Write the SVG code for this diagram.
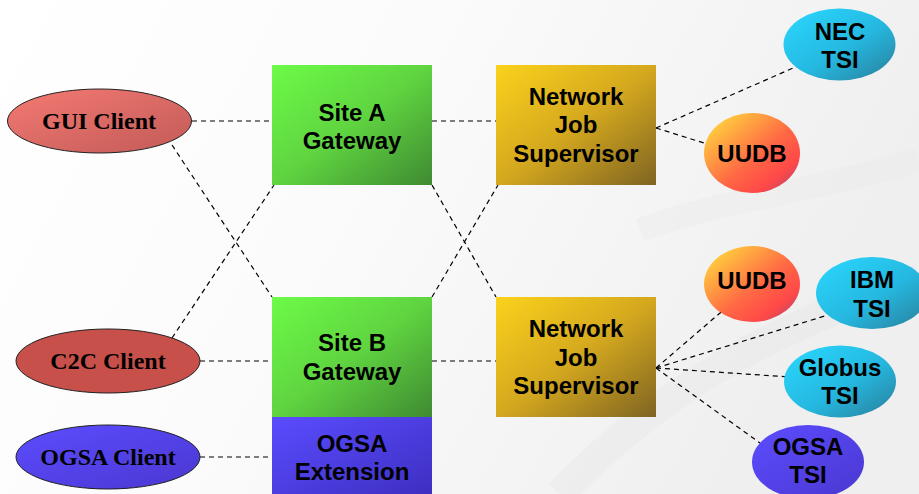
<svg xmlns="http://www.w3.org/2000/svg" width="919" height="494" viewBox="0 0 919 494">
<defs>
<linearGradient id="bg" x1="0" y1="0" x2="1" y2="0.3">
<stop offset="0" stop-color="#ffffff"/><stop offset="0.45" stop-color="#fbfbfb"/><stop offset="1" stop-color="#efefef"/>
</linearGradient>
<linearGradient id="gGreen" x1="0" y1="0" x2="1" y2="1">
<stop offset="0" stop-color="#6dfb48"/><stop offset="0.5" stop-color="#5fd440"/><stop offset="1" stop-color="#3f8a32"/>
</linearGradient>
<linearGradient id="gGold" x1="0" y1="0" x2="1" y2="1">
<stop offset="0" stop-color="#fbd21c"/><stop offset="0.5" stop-color="#d4a81e"/><stop offset="1" stop-color="#7f6422"/>
</linearGradient>
<linearGradient id="gBlue" x1="0" y1="0" x2="1" y2="1">
<stop offset="0" stop-color="#5a4cff"/><stop offset="1" stop-color="#3d2fc0"/>
</linearGradient>
<linearGradient id="gCyan" x1="0" y1="0" x2="1" y2="1">
<stop offset="0" stop-color="#2ad8ff"/><stop offset="0.55" stop-color="#25b8e0"/><stop offset="1" stop-color="#2a7d99"/>
</linearGradient>
<linearGradient id="gUudb" x1="0.1" y1="0.1" x2="0.9" y2="0.9">
<stop offset="0" stop-color="#ffd23e"/><stop offset="0.55" stop-color="#ff6a44"/><stop offset="0.85" stop-color="#ff4848"/><stop offset="1" stop-color="#c84860"/>
</linearGradient>
<linearGradient id="gGui" x1="0" y1="0" x2="1" y2="1">
<stop offset="0" stop-color="#f47a72"/><stop offset="1" stop-color="#c25a58"/>
</linearGradient>
<linearGradient id="gPurple" x1="0" y1="0" x2="1" y2="1">
<stop offset="0" stop-color="#5c4cff"/><stop offset="1" stop-color="#4a38d0"/>
</linearGradient>
<style>
.conn{stroke:#000;stroke-width:1.2;stroke-dasharray:5 4;fill:none}
.sans{font-family:"Liberation Sans",Arial,sans-serif;font-weight:bold;font-size:24px;fill:#000;text-anchor:middle}
.serif{font-family:"Liberation Serif","Times New Roman",serif;font-weight:bold;font-size:24px;fill:#000;text-anchor:middle}
.client{stroke:#222;stroke-width:1}
</style>
</defs>
<rect width="919" height="494" fill="url(#bg)"/>
<path d="M560 494 C650 400 760 330 919 280" stroke="#e6e6e6" stroke-width="30" fill="none" opacity="0.35"/>
<path d="M640 230 C720 200 820 190 919 160" stroke="#e8e8e8" stroke-width="24" fill="none" opacity="0.3"/>
<g id="connectors">
<line class="conn" x1="192" y1="121" x2="272" y2="121"/>
<line class="conn" x1="432" y1="121" x2="496" y2="121"/>
<line class="conn" x1="172" y1="145" x2="272" y2="297"/>
<line class="conn" x1="172" y1="338" x2="274" y2="185"/>
<line class="conn" x1="200" y1="361" x2="272" y2="361"/>
<line class="conn" x1="200" y1="457" x2="276" y2="457"/>
<line class="conn" x1="432" y1="185" x2="496" y2="297"/>
<line class="conn" x1="432" y1="297" x2="498" y2="185"/>
<line class="conn" x1="432" y1="361" x2="496" y2="361"/>
<line class="conn" x1="656" y1="128" x2="800" y2="65"/>
<line class="conn" x1="656" y1="128" x2="752" y2="158"/>
<line class="conn" x1="656" y1="368" x2="727" y2="307"/>
<line class="conn" x1="656" y1="368" x2="828" y2="315"/>
<line class="conn" x1="656" y1="368" x2="790" y2="377"/>
<line class="conn" x1="656" y1="368" x2="760" y2="443"/>
</g>
<g id="gui-client">
<ellipse class="client" cx="99.5" cy="121" rx="92" ry="32" fill="url(#gGui)"/>
<text class="serif" x="99" y="129">GUI Client</text>
</g>
<g id="c2c-client">
<ellipse class="client" cx="108" cy="361" rx="92" ry="32" fill="#c8504a"/>
<text class="serif" x="108" y="369">C2C Client</text>
</g>
<g id="ogsa-client">
<ellipse class="client" cx="108" cy="457" rx="92" ry="32" fill="url(#gPurple)"/>
<text class="serif" x="108" y="465">OGSA Client</text>
</g>
<g id="site-a">
<rect x="272" y="65" width="160" height="120" fill="url(#gGreen)"/>
<text class="sans" x="352" y="121">Site A</text>
<text class="sans" x="352" y="149">Gateway</text>
</g>
<g id="site-b">
<rect x="272" y="297" width="160" height="120" fill="url(#gGreen)"/>
<text class="sans" x="352" y="351">Site B</text>
<text class="sans" x="352" y="380">Gateway</text>
</g>
<g id="ogsa-extension">
<rect x="272" y="417" width="160" height="80" fill="url(#gBlue)"/>
<text class="sans" x="352" y="452">OGSA</text>
<text class="sans" x="352" y="480">Extension</text>
</g>
<g id="njs-top">
<rect x="496" y="65" width="160" height="120" fill="url(#gGold)"/>
<text class="sans" x="576" y="105">Network</text>
<text class="sans" x="576" y="133">Job</text>
<text class="sans" x="576" y="162">Supervisor</text>
</g>
<g id="njs-bottom">
<rect x="496" y="297" width="160" height="120" fill="url(#gGold)"/>
<text class="sans" x="576" y="337">Network</text>
<text class="sans" x="576" y="366">Job</text>
<text class="sans" x="576" y="394">Supervisor</text>
</g>
<g id="nec-tsi">
<ellipse cx="839.5" cy="44.5" rx="56" ry="36" fill="url(#gCyan)"/>
<text class="sans" x="840" y="40">NEC</text>
<text class="sans" x="840" y="68">TSI</text>
</g>
<g id="uudb-top">
<ellipse cx="752" cy="153" rx="48" ry="40" fill="url(#gUudb)"/>
<text class="sans" x="752" y="162">UUDB</text>
</g>
<g id="uudb-bottom">
<ellipse cx="752" cy="284" rx="48" ry="38" fill="url(#gUudb)"/>
<text class="sans" x="752" y="289">UUDB</text>
</g>
<g id="ibm-tsi">
<ellipse cx="872" cy="293" rx="56" ry="36" fill="url(#gCyan)"/>
<text class="sans" x="872" y="288">IBM</text>
<text class="sans" x="872" y="317">TSI</text>
</g>
<g id="globus-tsi">
<ellipse cx="840" cy="381.5" rx="56" ry="36" fill="url(#gCyan)"/>
<text class="sans" x="840" y="376">Globus</text>
<text class="sans" x="840" y="404">TSI</text>
</g>
<g id="ogsa-tsi">
<ellipse cx="808" cy="462" rx="56" ry="37" fill="url(#gPurple)"/>
<text class="sans" x="808" y="455">OGSA</text>
<text class="sans" x="808" y="483">TSI</text>
</g>
</svg>
